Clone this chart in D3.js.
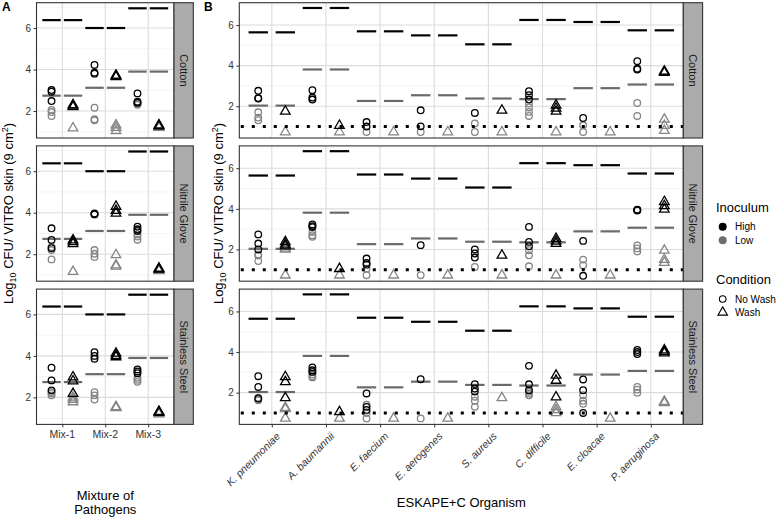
<!DOCTYPE html>
<html><head><meta charset="utf-8">
<script src="https://cdn.jsdelivr.net/npm/d3@7"></script>
<style>body{margin:0;background:#fff} text{font-family:"Liberation Sans",Arial,Helvetica,sans-serif}</style>
</head><body><svg id="chart" width="778" height="518"></svg>
<script>
// ---------- data ----------
const surfaces = ["Cotton", "Nitrile Glove", "Stainless Steel"];
const conditions = ["No Wash", "Wash"];
const inocula = ["High", "Low"];
const mixes = ["Mix-1", "Mix-2", "Mix-3"];
const organisms = ["K. pneumoniae", "A. baumannii", "E. faecium", "E. aerogenes", "S. aureus", "C. difficile", "E. cloacae", "P. aeruginosa"];
const yTicks = [2, 4, 6];
const yMinorTicks = [1, 3, 5, 7];
const detectionLimit = 1;

// inoculum levels (horizontal bars)
const mixHighLevel = [6.38, 6.0, 6.95];
const mixLowLevel = [2.74, 3.12, 3.9];
const orgHighLevel = [5.64, 6.84, 5.69, 5.49, 5.05, 6.25, 6.15, 5.74];
const orgLowLevel = [2.03, 3.81, 2.26, 2.54, 2.38, 2.35, 2.89, 3.07];

// recovered counts, [surface][category] -> replicate values
const mixNoWashHigh = [
  [[3.01, 2.93, 2.48], [4.22, 3.85, 3.80], [2.85, 2.45, 2.40]],
  [[3.25, 2.69, 2.29], [3.96, 3.94, 3.92], [3.33, 3.20, 3.12]],
  [[3.43, 2.82, 2.34], [4.18, 4.00, 3.86], [3.35, 3.25, 3.17]]
];
const mixNoWashLow = [
  [[2.05, 1.95, 1.76], [2.16, 1.60, 1.55], [2.38, 2.35, 2.30]],
  [[2.35, 2.20, 1.75], [2.20, 2.02, 1.87], [2.95, 2.85, 2.70]],
  [[2.26, 2.20, 2.10], [2.25, 2.10, 1.90], [2.95, 2.85, 2.75]]
];
const mixWashHigh = [
  [[2.30, 2.24, 2.20], [3.72, 3.68, 3.65], [1.32, 1.29, 1.27]],
  [[2.68, 2.60, 2.50], [4.30, 4.10, 3.97], [1.32, 1.29, 1.27]],
  [[2.98, 2.79, 2.18], [4.12, 4.02, 3.95], [1.32, 1.29, 1.27]]
];
const mixWashLow = [
  [[1.18], [1.32, 1.20, 1.05], [1.22, 1.20]],
  [[1.16], [1.97, 1.48, 1.42], [1.22, 1.20]],
  [[2.00, 1.90, 1.78], [1.55, 1.53, 1.50], [1.22, 1.20]]
];

const orgNoWashHigh = [
  [[2.76, 2.40, 2.38], [2.79, 2.43, 2.33], [1.22, 1.00], [1.80, 1.01], [1.67], [2.74, 2.54, 2.33], [1.42], [4.22, 3.85, 3.81]],
  [[2.74, 2.29, 2.00], [3.23, 3.15, 3.10], [1.55, 1.33, 1.25], [2.21], [2.00, 1.80, 1.60], [3.11, 2.37, 2.16], [2.42, 0.70], [3.96, 3.94, 3.92]],
  [[2.81, 2.28, 1.71], [3.24, 3.10, 3.02], [1.96, 1.30, 1.15], [2.66], [2.42, 2.20, 2.05], [3.32, 2.41, 2.12], [2.65, 2.12, 1.00], [4.10, 4.00, 3.90]]
];
const orgNoWashLow = [
  [[1.70, 1.44, 1.31], [2.35], [0.73], [0.73], [1.15, 0.73], [2.13, 1.94, 1.72, 1.52], [1.06, 0.73], [2.16, 1.52]],
  [[1.75, 1.70, 1.43], [2.86, 2.70, 2.62], [1.05, 0.73], [0.73], [1.14], [1.96, 1.71, 1.17], [1.50, 1.22], [2.20, 2.05, 1.90]],
  [[1.75, 1.65, 1.62], [2.90, 2.81, 2.75], [1.40, 1.00, 0.73], [0.73], [1.80, 1.60, 1.30], [2.04, 1.95, 1.87], [1.87, 1.60, 1.45], [2.28, 2.15, 2.00]]
];
const orgWashHigh = [
  [[1.75], [1.05], [], [], [1.80], [2.05, 1.90, 1.75], [], [3.72, 3.69, 3.66]],
  [[2.37, 2.25, 2.16], [1.05], [], [], [1.71], [2.53, 2.40, 2.29], [], [4.35, 4.15, 3.97]],
  [[2.78, 2.53, 1.74], [1.05], [], [], [], [2.85, 2.60, 1.78], [], [4.10, 4.02, 3.95]]
];
const orgWashLow = [
  [[0.73], [0.73], [0.73], [0.73], [0.73], [0.73], [0.73], [1.35, 1.05, 0.80]],
  [[2.05, 2.00, 0.73], [0.73], [0.73], [0.73], [0.73], [0.73], [0.73], [1.95, 1.50, 1.35]],
  [[1.26, 1.20, 0.73], [0.73], [0.73], [0.73], [1.74], [1.30, 1.15, 1.00], [0.73], [1.56, 1.54, 1.50]]
];

// ---------- style / layout ----------
const colHigh = "#000000", colLow = "#858585", colLowBar = "#6a6a6a";
const rowTops = [2.7, 145.9, 289.1], rowH = 135.3, stripW = 19.3;

const svg = d3.select("#chart");

function drawPanel(cfg) {
  const x = d3.scalePoint().domain(cfg.cats).range([cfg.x0, cfg.x1]).padding(0.6);
  const dodge = x.step() * 0.25;
  const condOffset = {"No Wash": -dodge, "Wash": dodge};
  surfaces.forEach((surf, si) => {
    const top = rowTops[si];
    const y = d3.scaleLinear().domain(cfg.yDomain).range([top + rowH, top]);
    const g = svg.append("g");
    g.append("rect").attr("x", cfg.x0).attr("y", top).attr("width", cfg.x1 - cfg.x0).attr("height", rowH).attr("fill", "#fff");
    g.selectAll(".mi").data(yMinorTicks.filter(v => v > cfg.yDomain[0] && v < cfg.yDomain[1])).join("line")
      .attr("x1", cfg.x0).attr("x2", cfg.x1).attr("y1", d => y(d)).attr("y2", d => y(d))
      .attr("stroke", "#efefef").attr("stroke-width", 0.6);
    g.selectAll(".ma").data(yTicks).join("line")
      .attr("x1", cfg.x0).attr("x2", cfg.x1).attr("y1", d => y(d)).attr("y2", d => y(d))
      .attr("stroke", "#dcdcdc").attr("stroke-width", 1.1);
    g.selectAll(".mv").data(cfg.cats).join("line")
      .attr("x1", d => x(d)).attr("x2", d => x(d)).attr("y1", top).attr("y2", top + rowH)
      .attr("stroke", "#dcdcdc").attr("stroke-width", 1.1);
    const bars = [];
    cfg.cats.forEach((c, ci) => {
      conditions.forEach(cond => {
        bars.push({c, cond, v: cfg.high[ci], col: colHigh});
        bars.push({c, cond, v: cfg.low[ci], col: colLowBar});
      });
    });
    g.selectAll(".bar").data(bars).join("line")
      .attr("x1", d => x(d.c) + condOffset[d.cond] - cfg.segHalf)
      .attr("x2", d => x(d.c) + condOffset[d.cond] + cfg.segHalf)
      .attr("y1", d => y(d.v)).attr("y2", d => y(d.v))
      .attr("stroke", d => d.col).attr("stroke-width", 2.2);
    const pts = [];
    const sets = [
      [cfg.nwL, "No Wash", colLow], [cfg.wL, "Wash", colLow],
      [cfg.nwH, "No Wash", colHigh], [cfg.wH, "Wash", colHigh]
    ];
    sets.forEach(([arr, cond, col]) => {
      arr[si].forEach((vals, ci) => vals.forEach(v => pts.push({c: cfg.cats[ci], cond, col, v})));
    });
    const circ = pts.filter(d => d.cond === "No Wash");
    const tri = pts.filter(d => d.cond === "Wash");
    g.selectAll(".pc").data(circ).join("circle")
      .attr("cx", d => x(d.c) + condOffset[d.cond]).attr("cy", d => y(d.v)).attr("r", 3.3)
      .attr("fill", "none").attr("stroke", d => d.col).attr("stroke-width", 1.3);
    const triPath = d3.symbol().type(d3.symbolTriangle).size(40)();
    g.selectAll(".pt").data(tri).join("path")
      .attr("d", triPath)
      .attr("transform", d => `translate(${x(d.c) + condOffset[d.cond]},${y(d.v)})`)
      .attr("fill", "none").attr("stroke", d => d.col).attr("stroke-width", 1.3);
    if (cfg.lod) {
      g.append("line").attr("x1", cfg.x0 + 1.5).attr("x2", cfg.x1).attr("y1", y(detectionLimit)).attr("y2", y(detectionLimit))
        .attr("stroke", "#000").attr("stroke-width", 3).attr("stroke-dasharray", "3,8");
    }
    g.append("rect").attr("x", cfg.x0).attr("y", top).attr("width", cfg.x1 - cfg.x0).attr("height", rowH)
      .attr("fill", "none").attr("stroke", "#333").attr("stroke-width", 1.1);
    g.append("rect").attr("x", cfg.x1).attr("y", top).attr("width", stripW).attr("height", rowH)
      .attr("fill", "#ababab").attr("stroke", "#333").attr("stroke-width", 1.1);
    g.append("text").attr("transform", `translate(${cfg.x1 + stripW / 2},${top + rowH / 2}) rotate(90)`)
      .attr("text-anchor", "middle").attr("dy", "0.35em").attr("font-size", 11).attr("fill", "#1a1a1a").text(surf);
    const ya = d3.axisLeft(y).tickValues(yTicks).tickSize(3).tickPadding(2.5).tickFormat(d3.format("d"));
    const ag = g.append("g").attr("transform", `translate(${cfg.x0},0)`).call(ya);
    ag.select(".domain").remove();
    ag.selectAll("line").attr("stroke", "#333");
    ag.selectAll("text").attr("font-size", 10).attr("fill", "#333");
    if (si === 2) {
      const xa = d3.axisBottom(x).tickSize(3).tickFormat("");
      const xg = g.append("g").attr("transform", `translate(0,${top + rowH})`).call(xa);
      xg.select(".domain").remove();
      xg.selectAll("line").attr("stroke", "#333");
      if (cfg.rotate) {
        g.selectAll(".xl").data(cfg.cats).join("text")
          .attr("transform", d => `translate(${x(d) + 9},${top + rowH + 12.5}) rotate(-45)`)
          .attr("text-anchor", "end").attr("font-size", 10.5).attr("font-style", "italic").attr("fill", "#333").text(d => d);
      } else {
        g.selectAll(".xl").data(cfg.cats).join("text")
          .attr("x", d => x(d)).attr("y", top + rowH + 14)
          .attr("text-anchor", "middle").attr("font-size", 10.5).attr("fill", "#333").text(d => d);
      }
    }
  });
}

drawPanel({cats: mixes, x0: 36.5, x1: 174, yDomain: [0.70, 7.22], segHalf: 9.2,
  high: mixHighLevel, low: mixLowLevel, nwH: mixNoWashHigh, nwL: mixNoWashLow, wH: mixWashHigh, wL: mixWashLow,
  lod: false, rotate: false});
drawPanel({cats: organisms, x0: 239.3, x1: 683.3, yDomain: [0.435, 7.1], segHalf: 9.7,
  high: orgHighLevel, low: orgLowLevel, nwH: orgNoWashHigh, nwL: orgNoWashLow, wH: orgWashHigh, wL: orgWashLow,
  lod: true, rotate: true});

function yTitle(xPos) {
  const t = svg.append("text").attr("transform", `translate(${xPos},213.5) rotate(-90)`)
    .attr("text-anchor", "middle").attr("font-size", 13).attr("fill", "#000");
  t.append("tspan").text("Log");
  t.append("tspan").attr("font-size", 9).attr("dy", 3).text("10");
  t.append("tspan").attr("dy", -3).text(" CFU/ VITRO skin (9 cm");
  t.append("tspan").attr("font-size", 9).attr("dy", -5).text("2");
  t.append("tspan").attr("dy", 5).text(")");
}
yTitle(13);
yTitle(222.5);

svg.append("text").attr("x", 105.3).attr("y", 500).attr("text-anchor", "middle").attr("font-size", 13).text("Mixture of");
svg.append("text").attr("x", 105.3).attr("y", 513.5).attr("text-anchor", "middle").attr("font-size", 13).text("Pathogens");
svg.append("text").attr("x", 461.3).attr("y", 507).attr("text-anchor", "middle").attr("font-size", 13).text("ESKAPE+C Organism");

svg.append("text").attr("x", 2).attr("y", 10.5).attr("font-size", 12).attr("font-weight", "bold").text("A");
svg.append("text").attr("x", 204).attr("y", 10.5).attr("font-size", 12).attr("font-weight", "bold").text("B");

const lg = svg.append("g");
lg.append("text").attr("x", 716).attr("y", 211.5).attr("font-size", 13).text("Inoculum");
const inocCols = [colHigh, "#6e6e6e"];
inocula.forEach((name, i) => {
  const cy = 226.7 + i * 13.6;
  lg.append("circle").attr("cx", 722.7).attr("cy", cy).attr("r", 4).attr("fill", inocCols[i]);
  lg.append("text").attr("x", 735).attr("y", cy + 3.6).attr("font-size", 10).text(name);
});
lg.append("text").attr("x", 716).attr("y", 284).attr("font-size", 13).text("Condition");
conditions.forEach((name, i) => {
  const cy = 299 + i * 13.4;
  if (i === 0) {
    lg.append("circle").attr("cx", 722.7).attr("cy", cy).attr("r", 3.3).attr("fill", "none").attr("stroke", "#000").attr("stroke-width", 1.1);
  } else {
    lg.append("path").attr("d", d3.symbol().type(d3.symbolTriangle).size(40)()).attr("transform", `translate(722.7,${cy})`)
      .attr("fill", "none").attr("stroke", "#000").attr("stroke-width", 1.1);
  }
  lg.append("text").attr("x", 735).attr("y", cy + 3.6).attr("font-size", 10).text(name);
});
</script></body></html>
